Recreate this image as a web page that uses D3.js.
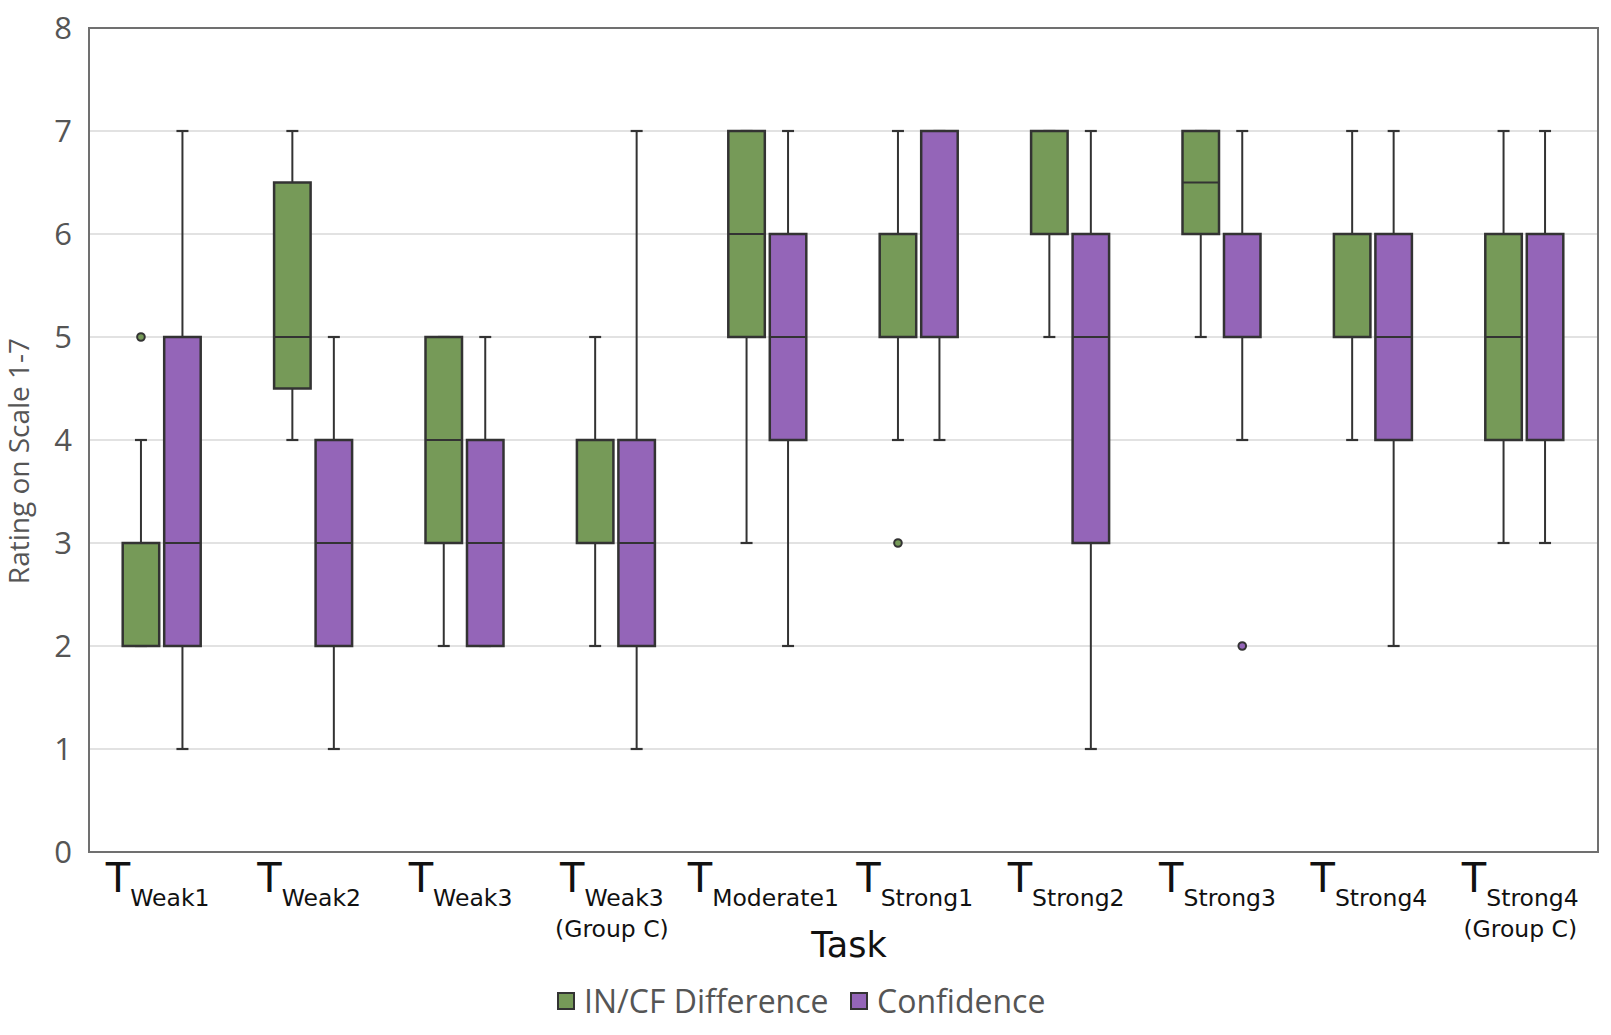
<!DOCTYPE html>
<html lang="en">
<head>
  <meta charset="UTF-8">
  <title>Task ratings</title>
  <script src="https://cdn.jsdelivr.net/npm/d3@7"></script>
  <style>
    body { margin: 0; background: #fff; }
  </style>
</head>
<body>
  <svg id="chart" width="1611" height="1035"></svg>
  <script>
  // tasks: main subscript + optional second line
  const tasks = ['Weak1', 'Weak2', 'Weak3', 'Weak3 C', 'Moderate1', 'Strong1', 'Strong2', 'Strong3', 'Strong4', 'Strong4 C'];
  const subs = ['Weak1', 'Weak2', 'Weak3', 'Weak3', 'Moderate1', 'Strong1', 'Strong2', 'Strong3', 'Strong4', 'Strong4'];
  const secondLine = ['', '', '', '(Group C)', '', '', '', '', '', '(Group C)'];
  const series = ['IN/CF Difference', 'Confidence'];
  const yTicks = [0, 1, 2, 3, 4, 5, 6, 7, 8];

  // [low whisker, q1, median, q3, high whisker]
  const diffStats = [
    [2, 2, 2, 3, 4],
    [4, 4.5, 5, 6.5, 7],
    [2, 3, 4, 5, 5],
    [2, 3, 3, 4, 5],
    [3, 5, 6, 7, 7],
    [4, 5, 5, 6, 7],
    [5, 6, 7, 7, 7],
    [5, 6, 6.5, 7, 7],
    [4, 5, 6, 6, 7],
    [3, 4, 5, 6, 7]
  ];
  const confStats = [
    [1, 2, 3, 5, 7],
    [1, 2, 3, 4, 5],
    [2, 2, 3, 4, 5],
    [1, 2, 3, 4, 7],
    [2, 4, 5, 6, 7],
    [4, 5, 7, 7, 7],
    [1, 3, 5, 6, 7],
    [4, 5, 6, 6, 7],
    [2, 4, 5, 6, 7],
    [3, 4, 6, 6, 7]
  ];
  // outliers: [task index, value]
  const diffOutliers = [[0, 5], [5, 3]];
  const confOutliers = [[7, 2]];

  const colors = ['#769a58', '#9465b8'];

  const svg = d3.select('#chart');
  const plot = { left: 89, right: 1598, top: 28, bottom: 852 };

  const y = d3.scaleLinear().domain([0, 8]).range([plot.bottom, plot.top]);
  const x = d3.scaleBand().domain(tasks).range([plot.left - 3, plot.right + 2]);
  const sub = d3.scaleBand().domain(series).range([-39, 39]).paddingInner(0.12);

  // gridlines
  svg.append('g')
    .selectAll('line')
    .data(yTicks.filter(d => d > 0 && d < 8))
    .enter()
    .append('line')
    .attr('x1', plot.left).attr('x2', plot.right)
    .attr('y1', d => y(d)).attr('y2', d => y(d))
    .attr('stroke', '#d9d9d9').attr('stroke-width', 1.5);

  // frame
  svg.append('rect')
    .attr('x', plot.left).attr('y', plot.top)
    .attr('width', plot.right - plot.left).attr('height', plot.bottom - plot.top)
    .attr('fill', 'none').attr('stroke', '#707070').attr('stroke-width', 2);

  // y tick labels
  svg.append('g')
    .selectAll('text')
    .data(yTicks)
    .enter()
    .append('text')
    .attr('x', 72).attr('y', d => y(d))
    .attr('dy', '0.36em')
    .attr('text-anchor', 'end')
    .attr('font-family', 'Open Sans, sans-serif')
    .attr('font-size', 31)
    .attr('fill', '#555')
    .text(d => d);

  svg.append('text')
    .attr('transform', 'translate(29, 461) rotate(-90)')
    .attr('text-anchor', 'middle')
    .attr('font-family', 'Open Sans, sans-serif')
    .attr('font-size', 28)
    .attr('fill', '#555')
    .text('Rating on Scale 1-7');

  function drawBoxes(stats, outliers, si) {
    const name = series[si];
    const w = sub.bandwidth();
    const g = svg.append('g');
    const items = g.selectAll('g')
      .data(stats)
      .enter()
      .append('g')
      .attr('transform', (d, i) => `translate(${x(tasks[i]) + x.bandwidth() / 2 + sub(name)}, 0)`);

    // whiskers
    items.append('line')
      .attr('x1', w / 2).attr('x2', w / 2)
      .attr('y1', d => y(d[0])).attr('y2', d => y(d[1]))
      .attr('stroke', '#333').attr('stroke-width', 2);
    items.append('line')
      .attr('x1', w / 2).attr('x2', w / 2)
      .attr('y1', d => y(d[3])).attr('y2', d => y(d[4]))
      .attr('stroke', '#333').attr('stroke-width', 2);
    items.append('line')
      .attr('x1', w / 2 - 6).attr('x2', w / 2 + 6)
      .attr('y1', d => y(d[0])).attr('y2', d => y(d[0]))
      .attr('stroke', '#333').attr('stroke-width', 2.2);
    items.append('line')
      .attr('x1', w / 2 - 6).attr('x2', w / 2 + 6)
      .attr('y1', d => y(d[4])).attr('y2', d => y(d[4]))
      .attr('stroke', '#333').attr('stroke-width', 2.2);

    // box
    items.append('rect')
      .attr('x', 0).attr('width', w)
      .attr('y', d => y(d[3])).attr('height', d => y(d[1]) - y(d[3]))
      .attr('fill', colors[si]).attr('stroke', '#333').attr('stroke-width', 2.5);

    // median
    items.append('line')
      .attr('x1', 0).attr('x2', w)
      .attr('y1', d => y(d[2])).attr('y2', d => y(d[2]))
      .attr('stroke', '#333').attr('stroke-width', 2);

    g.selectAll('circle')
      .data(outliers)
      .enter()
      .append('circle')
      .attr('cx', d => x(tasks[d[0]]) + x.bandwidth() / 2 + sub(name) + w / 2)
      .attr('cy', d => y(d[1]))
      .attr('r', 3.8)
      .attr('fill', colors[si]).attr('stroke', '#333').attr('stroke-width', 2);
  }

  drawBoxes(diffStats, diffOutliers, 0);
  drawBoxes(confStats, confOutliers, 1);

  // x labels: T with subscript
  const labels = svg.append('g')
    .selectAll('text')
    .data(tasks)
    .enter()
    .append('text')
    .attr('x', d => x(d) + x.bandwidth() / 2 - 4)
    .attr('y', 892)
    .attr('text-anchor', 'middle')
    .attr('font-family', 'DejaVu Sans, sans-serif')
    .attr('fill', '#111');
  labels.append('tspan').attr('font-size', 40).text('T');
  labels.append('tspan').attr('font-size', 23.5).attr('dy', 14).text((d, i) => subs[i]);

  svg.append('g')
    .selectAll('text')
    .data(tasks.filter((d, i) => secondLine[i]))
    .enter()
    .append('text')
    .attr('x', d => x(d) + x.bandwidth() / 2 - 4)
    .attr('y', 937)
    .attr('text-anchor', 'middle')
    .attr('font-family', 'DejaVu Sans, sans-serif')
    .attr('font-size', 23.5)
    .attr('fill', '#111')
    .text(d => secondLine[tasks.indexOf(d)]);

  svg.append('text')
    .attr('x', 849)
    .attr('y', 957)
    .attr('text-anchor', 'middle')
    .attr('font-family', 'DejaVu Sans, sans-serif')
    .attr('font-size', 35)
    .attr('fill', '#111')
    .text('Task');

  // legend
  const legendX = [558, 851];
  const legend = svg.append('g')
    .selectAll('g')
    .data(series)
    .enter()
    .append('g')
    .attr('transform', (d, i) => `translate(${legendX[i]}, 993)`);
  legend.append('rect')
    .attr('width', 16).attr('height', 16)
    .attr('fill', (d, i) => colors[i]).attr('stroke', '#333').attr('stroke-width', 2);
  legend.append('text')
    .attr('x', 26).attr('y', 8).attr('dy', '0.36em')
    .attr('font-family', 'Open Sans, sans-serif')
    .attr('font-size', 32)
    .attr('fill', '#555')
    .text(d => d);
  </script>
</body>
</html>
